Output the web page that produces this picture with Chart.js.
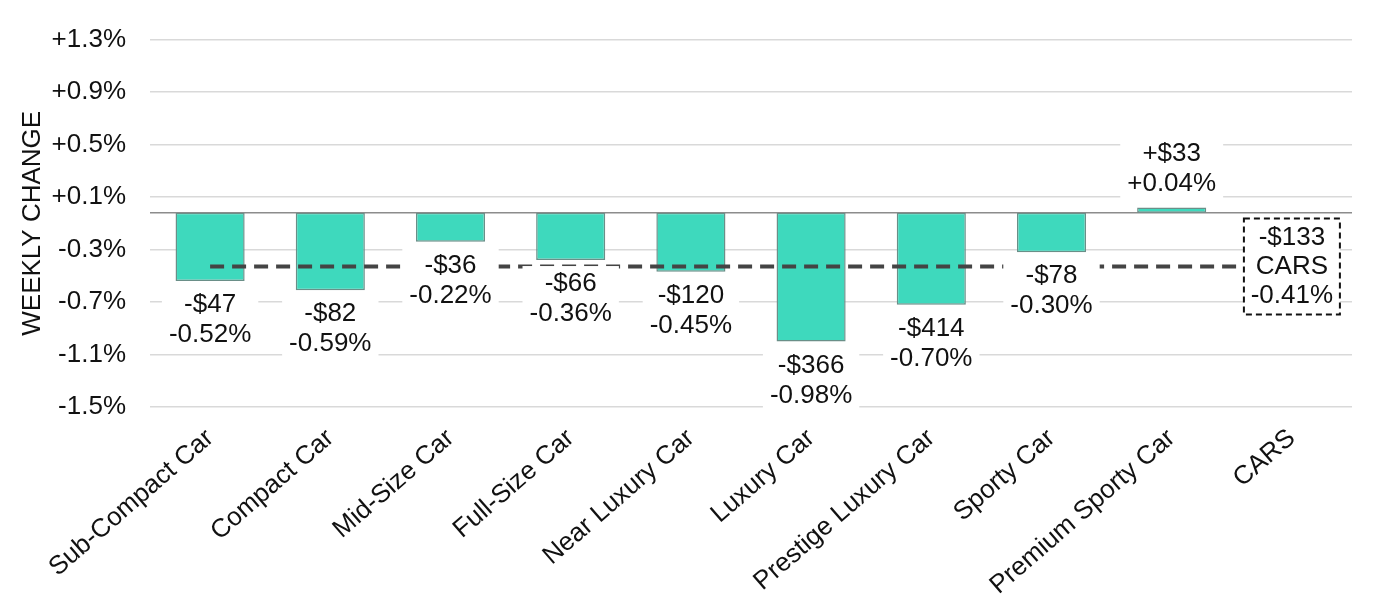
<!DOCTYPE html>
<html><head><meta charset="utf-8">
<script src="https://cdn.jsdelivr.net/npm/chart.js@4.4.0/dist/chart.umd.min.js"></script>
<style>html,body{margin:0;padding:0;background:#fff;overflow:hidden;}</style>
</head><body>
<canvas id="c" width="1400" height="605" style="display:block;width:1400px;height:605px"></canvas>
<script>
const categories = ['Sub-Compact Car','Compact Car','Mid-Size Car','Full-Size Car','Near Luxury Car','Luxury Car','Prestige Luxury Car','Sporty Car','Premium Sporty Car','CARS'];
const pctChange = [-0.52,-0.59,-0.22,-0.36,-0.45,-0.98,-0.70,-0.30,0.04,null];
const dollarLabels = ['-$47','-$82','-$36','-$66','-$120','-$366','-$414','-$78','+$33','-$133'];
const pctLabels = ['-0.52%','-0.59%','-0.22%','-0.36%','-0.45%','-0.98%','-0.70%','-0.30%','+0.04%','-0.41%'];
const overallLabel = 'CARS';
const overallPct = -0.41;
const overallLine = categories.map(() => overallPct);
const yTickValues = [-1.48,-1.08,-0.68,-0.28,0.12,0.52,0.92,1.32];
const yTickLabels = ['-1.5%','-1.1%','-0.7%','-0.3%','+0.1%','+0.5%','+0.9%','+1.3%'];

const FONT = '"Liberation Sans", Arial, sans-serif';
const TEXT = '#111111';

const zeroLine = {
  id: 'zeroLine',
  beforeDatasetsDraw(chart) {
    const {ctx, chartArea} = chart;
    const y = chart.scales.y.getPixelForValue(0);
    ctx.save();
    ctx.strokeStyle = '#8c8c8c';
    ctx.lineWidth = 1.5;
    ctx.beginPath();
    ctx.moveTo(chartArea.left, y);
    ctx.lineTo(chartArea.right, y);
    ctx.stroke();
    ctx.restore();
  }
};

const valueLabels = {
  id: 'valueLabels',
  afterDatasetsDraw(chart) {
    const ctx = chart.ctx;
    const meta = chart.getDatasetMeta(0);
    const yS = chart.scales.y;
    ctx.save();
    ctx.font = '26px ' + FONT;
    ctx.textAlign = 'center';
    ctx.textBaseline = 'middle';
    const lh = 30;
    pctChange.forEach((v, i) => {
      if (v === null) return;
      const el = meta.data[i];
      const lines = [dollarLabels[i], pctLabels[i]];
      const c1 = v < 0 ? el.y + 24 : el.y - 24 - lh;
      const w = Math.max(...lines.map(t => ctx.measureText(t).width));
      ctx.fillStyle = '#ffffff';
      ctx.fillRect(el.x - w / 2 - 7, c1 - 18, w + 14, lh + 18 + 15);
      ctx.fillStyle = TEXT;
      lines.forEach((t, k) => ctx.fillText(t, el.x, c1 + k * lh));
    });
    const i = categories.length - 1;
    const x = chart.scales.x.getPixelForValue(i);
    const yc = yS.getPixelForValue(overallPct);
    const lines = [dollarLabels[i], overallLabel, pctLabels[i]];
    const bw = 96, bh = 96;
    ctx.fillStyle = '#ffffff';
    ctx.fillRect(x - bw / 2, yc - bh / 2, bw, bh);
    ctx.setLineDash([6, 4]);
    ctx.lineWidth = 2;
    ctx.strokeStyle = '#111111';
    ctx.strokeRect(x - bw / 2, yc - bh / 2, bw, bh);
    ctx.setLineDash([]);
    ctx.fillStyle = TEXT;
    lines.forEach((t, k) => ctx.fillText(t, x, yc + (k - 1) * 29));
    ctx.restore();
  }
};

new Chart(document.getElementById('c'), {
  type: 'bar',
  data: {
    labels: categories,
    datasets: [
      {
        type: 'bar',
        data: pctChange,
        backgroundColor: '#3ed9bd',
        borderColor: '#6a8f88',
        borderWidth: 1.5,
        borderSkipped: false,
        barPercentage: 0.575,
        categoryPercentage: 1.0,
        order: 1
      },
      {
        type: 'line',
        data: overallLine,
        borderColor: '#444444',
        borderWidth: 4,
        borderDash: [14, 8],
        pointRadius: 0,
        fill: false,
        order: 0
      }
    ]
  },
  options: {
    responsive: false,
    animation: false,
    layout: { padding: { top: 37, right: 48, left: 0, bottom: 0 } },
    plugins: { legend: { display: false }, tooltip: { enabled: false } },
    scales: {
      x: {
        grid: { display: false },
        border: { display: false },
        ticks: {
          autoSkip: false, minRotation: 41, maxRotation: 41, padding: 8,
          color: TEXT, font: { family: FONT, size: 26 }
        },
        afterFit(s) { s.height = 198; }
      },
      y: {
        min: -1.48, max: 1.32,
        afterBuildTicks(s) { s.ticks = yTickValues.map(v => ({ value: v })); },
        grid: { color: '#d9d9d9', lineWidth: 1.5, drawTicks: false },
        border: { display: false },
        ticks: {
          padding: 24, color: TEXT, font: { family: FONT, size: 26 },
          callback(value) {
            const idx = yTickValues.findIndex(t => Math.abs(t - value) < 1e-6);
            return idx >= 0 ? yTickLabels[idx] : '';
          }
        },
        title: {
          display: true, text: 'WEEKLY CHANGE', color: TEXT,
          font: { family: FONT, size: 26 }, padding: { top: 17, bottom: 0 }
        },
        afterFit(s) { s.width = 150; }
      }
    }
  },
  plugins: [zeroLine, valueLabels]
});
</script>
</body></html>
